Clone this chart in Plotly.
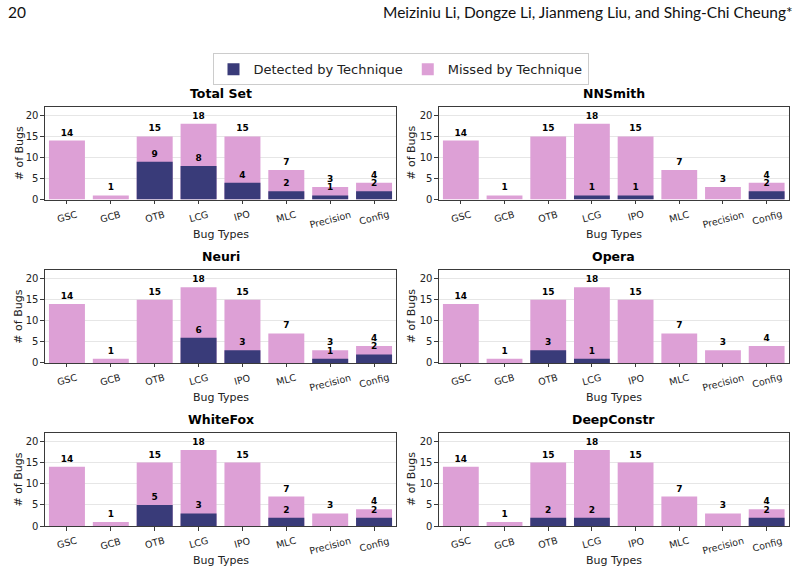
import plotly.graph_objects as go

categories = ["GSC", "GCB", "OTB", "LCG", "IPO", "MLC", "Precision", "Config"]
totals = [14, 1, 15, 18, 15, 7, 3, 4]
panel_titles = ["Total Set", "NNSmith", "Neuri", "Opera", "WhiteFox", "DeepConstr"]
detected_total_set = [0, 0, 9, 8, 4, 2, 1, 2]
detected_nnsmith = [0, 0, 0, 1, 1, 0, 0, 2]
detected_neuri = [0, 0, 0, 6, 3, 0, 1, 2]
detected_opera = [0, 0, 3, 1, 0, 0, 0, 0]
detected_whitefox = [0, 0, 5, 3, 0, 2, 0, 2]
detected_deepconstr = [0, 0, 2, 2, 0, 0, 0, 2]
detected = [detected_total_set, detected_nnsmith, detected_neuri,
            detected_opera, detected_whitefox, detected_deepconstr]
y_ticks = [0, 5, 10, 15, 20]

W, H = 801, 578
PINK = "#dda0d6"
NAVY = "#393b79"

# pixel layout of plot areas
xcols = [(45, 396), (439, 788.5)]
yrows = [(108, 201.7), (273.3, 366.7), (437.5, 531.7)]
title_y = [94.3, 259.3, 424]
xlabel_y = [236.7, 401.5, 566]
ylabel_x = [19, 411.5]

fig = go.Figure()
annotations = []
for i, (title, det) in enumerate(zip(panel_titles, detected)):
    r, c = divmod(i, 2)
    n = i + 1
    xa = "x" if n == 1 else f"x{n}"
    ya = "y" if n == 1 else f"y{n}"
    fig.add_trace(go.Bar(
        x=categories, y=totals, marker=dict(color=PINK, line=dict(width=0)),
        name="Missed by Technique", showlegend=(i == 0), legendrank=2,
        text=[str(v) for v in totals], textposition="outside",
        textfont=dict(family="DejaVu Sans", size=9, color="black", weight="bold"),
        constraintext="none", cliponaxis=False, width=0.82,
        xaxis=xa, yaxis=ya, hoverinfo="skip"))
    fig.add_trace(go.Bar(
        x=categories, y=det, marker=dict(color=NAVY, line=dict(width=0)),
        name="Detected by Technique", showlegend=(i == 0), legendrank=1,
        text=[str(v) if v > 0 else "" for v in det], textposition="outside",
        textfont=dict(family="DejaVu Sans", size=9, color="black", weight="bold"),
        constraintext="none", cliponaxis=False, width=0.82,
        xaxis=xa, yaxis=ya, hoverinfo="skip"))
    x0, x1 = xcols[c]
    y0, y1 = yrows[r]
    axcommon = dict(showline=True, linecolor="#3a3a3a", linewidth=1.2, mirror=True,
                    ticks="outside", ticklen=3.5, tickcolor="#3a3a3a",
                    tickfont=dict(family="DejaVu Sans", size=10, color="#222"))
    fig.layout[("xaxis" if n == 1 else f"xaxis{n}")] = dict(
        domain=[x0 / W, x1 / W], anchor=ya, showticklabels=False, showgrid=False,
        range=[-0.5, 7.5], **axcommon)
    fig.layout[("yaxis" if n == 1 else f"yaxis{n}")] = dict(
        domain=[1 - y1 / H, 1 - y0 / H], anchor=xa, range=[0, 22],
        tickvals=y_ticks, showgrid=True, gridcolor="#e6e6e6", gridwidth=1,
        zeroline=False, **axcommon)
    for cat in categories:
        annotations.append(dict(text=cat, x=cat, xref=xa, y=1 - (y1 + 6.5) / H, yref="paper",
                                showarrow=False, textangle=-15, xanchor="center", yanchor="top",
                                font=dict(family="DejaVu Sans", size=9.5, color="#222")))
    annotations.append(dict(text=f"<b>{title}</b>", x=(x0 + x1) / 2 / W, y=1 - title_y[r] / H,
                            xref="paper", yref="paper", showarrow=False,
                            font=dict(family="DejaVu Sans", size=12.5, color="black"),
                            xanchor="center", yanchor="middle"))
    annotations.append(dict(text="Bug Types", x=(x0 + x1) / 2 / W, y=1 - xlabel_y[r] / H,
                            xref="paper", yref="paper", showarrow=False,
                            font=dict(family="DejaVu Sans", size=11, color="#222"),
                            xanchor="center", yanchor="middle"))
    annotations.append(dict(text="# of Bugs", x=ylabel_x[c] / W, y=1 - (y0 + y1) / 2 / H,
                            xref="paper", yref="paper", showarrow=False, textangle=-90,
                            font=dict(family="DejaVu Sans", size=11, color="#222"),
                            xanchor="center", yanchor="middle"))

annotations.append(dict(text="20", x=6 / W, y=1 - 12 / H, xref="paper", yref="paper",
                        showarrow=False, xanchor="left", yanchor="middle",
                        font=dict(family="Lato", size=15.5, color="#111")))
annotations.append(dict(text="Meiziniu Li, Dongze Li, Jianmeng Liu, and Shing-Chi Cheung*",
                        x=795 / W, y=1 - 12 / H, xref="paper", yref="paper",
                        showarrow=False, xanchor="right", yanchor="middle",
                        font=dict(family="Lato", size=15.5, color="#111")))

fig.update_layout(
    width=W, height=H, margin=dict(l=0, r=0, t=0, b=0),
    paper_bgcolor="white", plot_bgcolor="white",
    barmode="overlay", bargap=0.18,
    annotations=annotations,
    legend=dict(orientation="h", x=0.5, xanchor="center", y=1 - 70 / H, yanchor="middle",
                bordercolor="#cccccc", borderwidth=1, bgcolor="white",
                font=dict(family="DejaVu Sans", size=13, color="#222"),
                traceorder="normal", itemwidth=30),
    showlegend=True,
)
fig.write_html("out.html")
